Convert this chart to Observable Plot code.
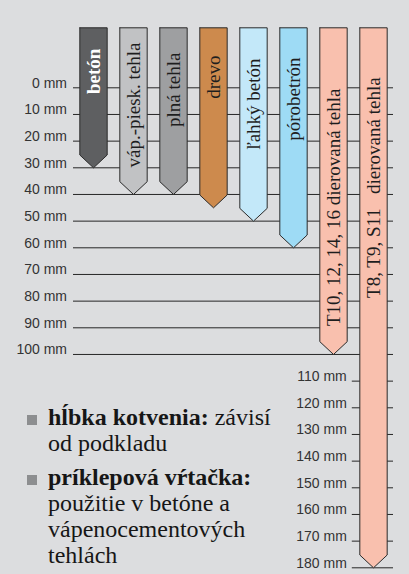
<!DOCTYPE html>
<html><head><meta charset="utf-8">
<script src="https://cdn.jsdelivr.net/npm/d3@7"></script>
<script src="https://cdn.jsdelivr.net/npm/@observablehq/plot@0.6"></script>
<style>
body{margin:0;background:#dcdddf}
#wrap{position:relative;width:409px;height:574px;background:#dcdddf;overflow:hidden}
#chart svg{display:block;background:transparent}
g[aria-label="bar labels"] text{letter-spacing:0.7px;white-space:pre}
g[aria-label="first label"] text{letter-spacing:1.3px}
g[aria-label="depth labels"] text{letter-spacing:-0.25px}
#notes{position:absolute;left:48px;top:404px;font-family:"Liberation Serif","Times New Roman",serif;font-size:24px;line-height:26px;color:#161616}
#notes p{margin:0;position:relative}
#notes p + p{margin-top:8px}
#notes p::before{content:"";position:absolute;left:-21.3px;top:11px;width:10px;height:10px;background:#8d8e90}
</style></head>
<body>
<div id="wrap">
<div id="chart"></div>
<div id="notes">
<p><b>hĺbka kotvenia:</b> závisí<br>od podkladu</p>
<p><b>príklepová vŕtačka:</b><br>použitie v betóne a<br>vápenocementových<br>tehlách</p>
</div>
</div>
<script>
const categories = ["betón","váp.-piesk. tehla","plná tehla","drevo","ľahký betón","pórobetrón","T10, 12, 14, 16 dierovaná tehla","T8, T9, S11\u00a0\u00a0\u00a0dierovaná tehla"];
const depths = [30, 40, 40, 45, 50, 60, 100, 180];
const colors = ["#5e5f61","#c1c2c4","#9e9fa1","#cd8a4d","#c3e8f9","#9edbf5","#f9c0ae","#f9c0ae"];
const ticksLeft = [0,10,20,30,40,50,60,70,80,90,100];
const ticksRight = [110,120,130,140,150,160,170,180];
const barTop = -22.5;      // mm, top of every bar

// layout only: how far each rotated label starts below its bar top (mm)
const labelInset = [7.8, 5.5, 9.3, 10.4, 11.5, 11.1, 22.8, 18.6];

const hw = 0.342;          // half bar width (x units)
const tip = 4.8;           // arrow tip height (mm)
const last = categories.length - 1;

const barMarks = categories.map((c, i) => {
  const d = depths[i];
  const pts = [[i - hw, barTop],[i + hw, barTop],[i + hw, d - tip],[i, d],[i - hw, d - tip],[i - hw, barTop]]
    .map(([x, y]) => ({x, y}));
  return Plot.line(pts, {x: "x", y: "y", fill: colors[i], stroke: "#2a2a2a", strokeWidth: 1, curve: "linear", strokeLinejoin: "miter"});
});

const idx = categories.map((c, i) => i);
const labelFont = "Liberation Serif, Times New Roman, serif";
const tickFont = "Liberation Sans, Arial, sans-serif";

const plot = Plot.plot({
  width: 409, height: 574,
  marginLeft: 73, marginRight: 16, marginTop: 87.3, marginBottom: 6.7,
  x: {domain: [-0.5, categories.length - 0.5], axis: null},
  y: {domain: [0, 180], reverse: true, axis: null},
  style: {background: "transparent"},
  marks: [
    Plot.ruleY(ticksLeft, {stroke: "#262626", strokeWidth: 1}),
    Plot.ruleY(ticksRight, {x1: last - 0.53, x2: last + 0.5, stroke: "#262626", strokeWidth: 1}),
    Plot.text(ticksLeft, {y: d => d, text: d => `${d} mm`, frameAnchor: "left", textAnchor: "end", dx: -6.5, lineAnchor: "bottom", fontFamily: tickFont, fontSize: 14, fill: "#333", ariaLabel: "depth labels"}),
    Plot.text(ticksRight, {x: last - 0.53, y: d => d, text: d => `${d} mm`, textAnchor: "end", dx: -5.5, lineAnchor: "bottom", fontFamily: tickFont, fontSize: 14, fill: "#333", ariaLabel: "depth labels"}),
    ...barMarks,
    Plot.text(idx.slice(0, 1), {x: i => i, y: i => barTop + labelInset[i], text: i => categories[i], rotate: -90, textAnchor: "end", lineAnchor: "middle",
      fill: "#ffffff", fontWeight: "bold", fontFamily: labelFont, fontSize: 19, ariaLabel: "first label"}),
    Plot.text(idx.slice(1), {x: i => i, y: i => barTop + labelInset[i], text: i => categories[i], rotate: -90, textAnchor: "end", lineAnchor: "middle",
      fill: "#1e1e1e", fontFamily: labelFont, fontSize: 19, ariaLabel: "bar labels"})
  ]
});
document.getElementById("chart").appendChild(plot);
</script>
</body></html>
